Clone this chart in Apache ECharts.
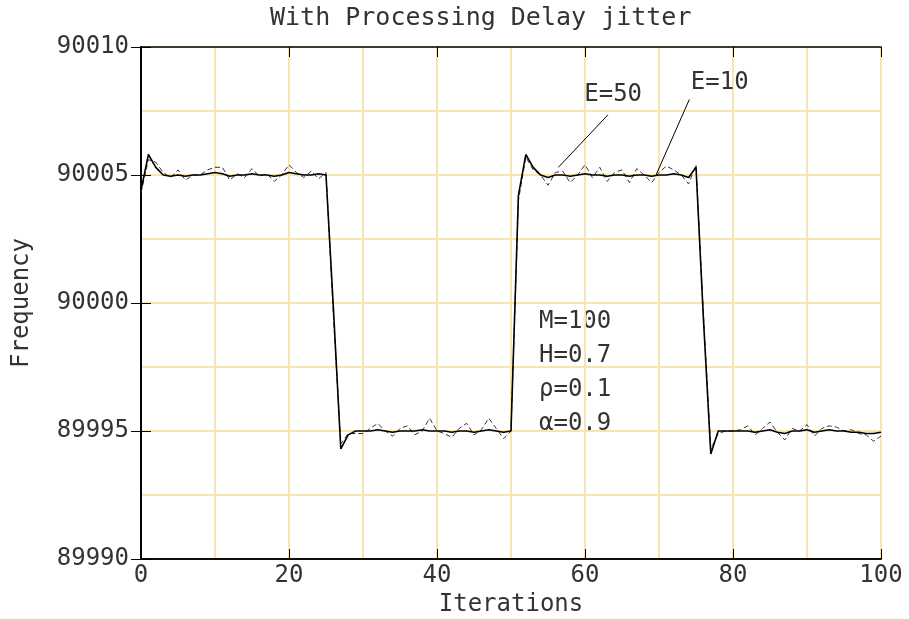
<!DOCTYPE html>
<html>
<head>
<meta charset="utf-8">
<script src="https://cdn.jsdelivr.net/npm/echarts@6/dist/echarts.min.js"></script>
<style>
  html, body { margin: 0; padding: 0; background: #fff; }
  #chart { width: 909px; height: 619px; }
</style>
</head>
<body>
<div id="chart"></div>
<script>
// iterations 0..100
var iterations = [];
for (var i = 0; i <= 100; i++) iterations.push(i);

// E=50 (smoother, solid)
var freqE50 = [
  90004.4, 90005.8, 90005.3, 90005.0, 90004.95, 90005.0, 90004.95, 90005.0, 90005.0, 90005.05,
  90005.1, 90005.05, 90004.95, 90005.0, 90005.0, 90005.05, 90005.0, 90005.0, 90004.95, 90005.0,
  90005.1, 90005.05, 90005.0, 90005.0, 90005.05, 90005.0, 89999.8, 89994.3, 89994.85, 89995.0,
  89995.0, 89995.0, 89995.05, 89995.0, 89994.95, 89995.0, 89995.0, 89995.0, 89995.05, 89995.0,
  89995.0, 89995.0, 89994.95, 89995.0, 89995.0, 89994.95, 89995.0, 89995.05, 89995.0, 89994.95,
  89995.0, 90004.2, 90005.8, 90005.3, 90005.0, 90004.9, 90005.0, 90005.0, 90004.95, 90005.0,
  90005.05, 90005.0, 90005.0, 90004.95, 90005.0, 90005.0, 90004.95, 90005.0, 90005.0, 90004.95,
  90005.0, 90005.0, 90005.05, 90005.0, 90004.9, 90005.3, 89999.4, 89994.1, 89995.0, 89995.0,
  89995.0, 89995.0, 89995.0, 89994.95, 89995.0, 89995.05, 89994.95, 89994.9, 89995.0, 89995.0,
  89995.05, 89994.95, 89995.0, 89995.05, 89995.0, 89995.0, 89994.95, 89994.95, 89994.9, 89994.9,
  89994.95
];

// E=10 (jittery, dashed)
var freqE10 = [
  90004.3, 90005.6, 90005.5, 90005.1, 90004.9, 90005.2, 90004.8, 90005.0, 90005.0, 90005.2,
  90005.3, 90005.3, 90004.8, 90005.05, 90004.9, 90005.25, 90004.95, 90005.05, 90004.75, 90005.0,
  90005.4, 90005.1, 90004.9, 90005.15, 90004.85, 90005.1, 89999.5, 89994.5, 89994.9, 89994.9,
  89994.9, 89995.1, 89995.3, 89995.0, 89994.8, 89995.1, 89995.2, 89994.85, 89995.0, 89995.5,
  89995.0, 89994.9, 89994.75, 89995.1, 89995.3, 89994.85, 89995.05, 89995.5, 89995.1, 89994.7,
  89995.0, 90004.0, 90005.7, 90005.2, 90005.0, 90004.6, 90005.1, 90005.15, 90004.7, 90005.0,
  90005.4, 90004.9, 90005.3, 90004.75, 90005.1, 90005.2, 90004.7, 90005.25, 90005.0, 90004.7,
  90005.1, 90005.35, 90005.2, 90005.0, 90004.65, 90005.4, 89999.6, 89994.3, 89994.9, 89995.0,
  89995.0, 89995.05, 89995.2, 89994.85, 89995.1, 89995.35, 89994.95, 89994.65, 89995.1, 89995.0,
  89995.25, 89994.8, 89995.1, 89995.2, 89995.15, 89995.0, 89995.05, 89994.9, 89994.85, 89994.6,
  89994.8
];

var paramLabels = ['M=100', 'H=0.7', 'ρ=0.1', 'α=0.9'];

function pairs(ys) {
  return iterations.map(function (x, k) { return [x, ys[k]]; });
}

var FONT = 'DejaVu Sans Mono';
var gridColor = '#f7e5ae';
var txt = '#333';

var chart = echarts.init(document.getElementById('chart'));

function axisLine() { return { lineStyle: { color: '#000', width: 1.5 } }; }
function ticks() { return { show: true, inside: true, length: 10, lineStyle: { color: '#000', width: 1 } }; }
function noLabel() { return { show: false }; }

chart.setOption({
  animation: false,
  grid: { left: 141, top: 47, width: 740, height: 512, containLabel: false, outerBoundsMode: 'none' },
  xAxis: [{
    // grid lines every 10, labels every 20
    type: 'value', min: 0, max: 100, interval: 10,
    name: 'Iterations', nameLocation: 'middle', nameGap: 33,
    nameTextStyle: { fontFamily: FONT, fontSize: 24, color: txt },
    axisLine: axisLine(),
    axisTick: { show: false },
    axisLabel: {
      fontFamily: FONT, fontSize: 24, color: txt, margin: 5,
      formatter: function (v) { return v % 20 === 0 ? String(v) : ''; }
    },
    splitLine: { show: true, lineStyle: { color: gridColor, width: 2 } }
  }, {
    type: 'value', min: 0, max: 100, interval: 20, position: 'top',
    axisLine: axisLine(), axisTick: ticks(), axisLabel: noLabel(), splitLine: { show: false }
  }, {
    type: 'value', min: 0, max: 100, interval: 20, position: 'bottom',
    axisLine: axisLine(), axisTick: ticks(), axisLabel: noLabel(), splitLine: { show: false }
  }],
  yAxis: [{
    type: 'value', min: 89990, max: 90010, interval: 2.5,
    name: 'Frequency', nameLocation: 'middle', nameGap: 107, nameRotate: 90,
    nameTextStyle: { fontFamily: FONT, fontSize: 24, color: txt },
    axisLine: axisLine(),
    axisTick: { show: false },
    axisLabel: {
      fontFamily: FONT, fontSize: 24, color: txt, margin: 12,
      formatter: function (v) { return v % 5 === 0 ? String(v) : ''; }
    },
    splitLine: { show: true, lineStyle: { color: gridColor, width: 2 } }
  }, {
    type: 'value', min: 89990, max: 90010, interval: 5, position: 'right',
    axisLine: axisLine(), axisTick: ticks(), axisLabel: noLabel(), splitLine: { show: false }
  }, {
    type: 'value', min: 89990, max: 90010, interval: 5, position: 'left',
    axisLine: axisLine(), axisTick: ticks(), axisLabel: noLabel(), splitLine: { show: false }
  }],
  series: [{
    name: 'E=10',
    type: 'line',
    data: pairs(freqE10),
    symbol: 'none',
    lineStyle: { color: '#333', width: 1, type: [5, 3] },
    z: 3
  }, {
    name: 'E=50',
    type: 'line',
    data: pairs(freqE50),
    symbol: 'none',
    lineStyle: { color: '#000', width: 1.6 },
    z: 4,
    markLine: {
      silent: true,
      symbol: 'none',
      label: { show: false },
      lineStyle: { color: '#000', width: 1, type: 'solid' },
      data: [
        [{ coord: [63.1, 90007.35] }, { coord: [56.4, 90005.3] }],
        [{ coord: [74.1, 90007.95] }, { coord: [69.6, 90005.0] }]
      ]
    },
    markPoint: {
      silent: true,
      symbol: 'circle', symbolSize: 0,
      label: {
        show: true, fontFamily: FONT, fontSize: 24, color: txt,
        position: 'right', distance: 0
      },
      data: [
        { coord: [59.9, 90008.15], value: 'E=50', label: { formatter: 'E=50' } },
        { coord: [74.3, 90008.6], value: 'E=10', label: { formatter: 'E=10' } }
      ]
    }
  }],
  graphic: [{
    type: 'text', left: 270, top: 6,
    style: { text: 'With Processing Delay jitter', fontFamily: FONT, fontSize: 25, fill: txt }
  }, {
    type: 'text', left: 539, top: 305,
    style: { text: paramLabels.join('\n'), fontFamily: FONT, fontSize: 24, lineHeight: 34, fill: txt }
  }]
});
</script>
</body>
</html>
